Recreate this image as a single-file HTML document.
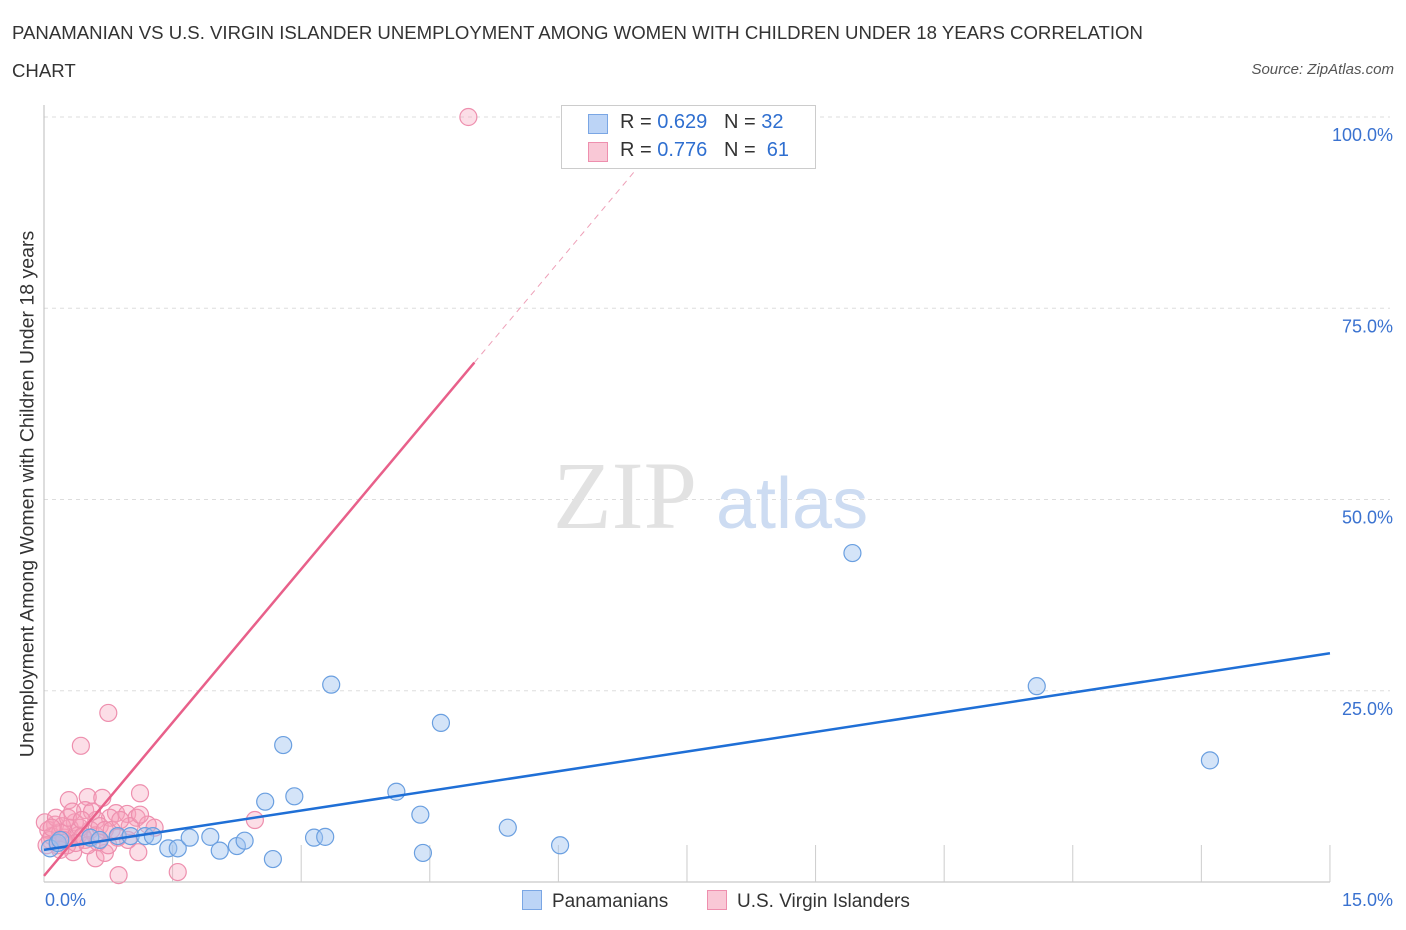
<!DOCTYPE html>
<html><head><meta charset="utf-8"><style>
body{margin:0;background:#fff;font-family:"Liberation Sans",sans-serif}
#wrap{position:relative;width:1406px;height:930px;overflow:hidden}
.t{position:absolute;white-space:nowrap}
</style></head><body>
<div id="wrap">
<div class="t" style="left:12px;top:14px;font-size:18.6px;color:#333;line-height:38px">PANAMANIAN VS U.S. VIRGIN ISLANDER UNEMPLOYMENT AMONG WOMEN WITH CHILDREN UNDER 18 YEARS CORRELATION<br>CHART</div>
<div class="t" style="right:12px;top:61px;font-size:15px;color:#555;font-style:italic">Source: ZipAtlas.com</div>
<svg id="svg" width="1406" height="930" style="position:absolute;left:0;top:0"></svg>
</div>
<script>
const blueX=[0.07,0.16,0.19,0.54,0.65,0.86,1.01,1.18,1.27,1.45,1.56,1.70,1.94,2.05,2.25,2.34,2.58,2.67,2.79,2.92,3.15,3.28,3.35,4.11,4.39,4.42,4.63,5.41,6.02,9.43,11.58,13.60];
const blueY=[4.4,5.1,5.5,5.8,5.5,6.0,6.0,6.0,6.0,4.4,4.4,5.8,5.9,4.1,4.7,5.4,10.5,3.0,17.9,11.2,5.8,5.9,25.8,11.8,8.8,3.8,20.8,7.1,4.8,43.0,25.6,15.9];
const pinkX=[4.95,0.75,0.43,2.46,1.56,0.87,1.12,0.29,0.51,0.68,0.48,0.84,0.97,1.08,1.29,1.00,0.77,0.61,0.36,0.13,0.05,0.07,0.09,0.19,0.24,0.30,0.40,0.48,0.54,0.60,0.65,0.71,0.34,0.60,0.71,0.98,1.10,0.16,0.21,0.27,0.42,0.51,0.01,0.03,0.14,0.28,0.56,0.79,0.89,1.21,1.12,0.37,0.45,0.23,0.63,0.09,0.33,0.19,0.44,0.86,0.75];
const pinkY=[100,22.1,17.8,8.1,1.3,0.9,11.6,10.7,11.1,11.0,9.4,9.0,8.9,8.4,7.1,7.3,8.4,8.1,7.8,7.5,6.8,5.5,6.0,6.5,5.8,7.1,6.1,5.5,6.8,6.1,7.3,6.8,3.9,3.1,3.8,5.5,3.9,4.8,7.3,4.8,7.1,4.8,7.8,4.8,8.4,8.4,9.2,6.8,8.1,7.5,8.8,5.1,6.0,5.5,5.2,7.1,9.2,4.2,8.1,5.8,4.8];
const blueLine=[[0,4.2],[15,29.9]];
const pinkLine=[[0,0.8],[5.02,67.9]];
const pinkDash=[[5.02,67.9],[7.42,100]];
const yTicks=[25,50,75,100];
const yTickLabels=["25.0%","50.0%","75.0%","100.0%"];
const xTicks=[0,1.5,3,4.5,6,7.5,9,10.5,12,13.5,15];
const X=v=>44+v*85.73, Y=v=>882-v*7.65;
const svg=document.getElementById('svg');
const NS='http://www.w3.org/2000/svg';
function mk(tag,attrs,parent){const e=document.createElementNS(NS,tag);for(const k in attrs)e.setAttribute(k,attrs[k]);(parent||svg).appendChild(e);return e;}
yTicks.forEach((t,i)=>{
 const g=mk('line',{x1:44,x2:1390,y1:Y(t),y2:Y(t),stroke:'#ddd','stroke-dasharray':'4,4'});
 
 
 const l=mk('text',{x:1393,y:Y(t)+24,'text-anchor':'end','font-size':18,fill:'#3a72d0','font-family':'Liberation Sans'});
 l.textContent=yTickLabels[i];
 
 
});
const w1=mk('text',{x:553,y:528,'font-size':96,fill:'#e2e2e2','font-family':'Liberation Serif'});w1.textContent='ZIP';


const w2=mk('text',{x:716,y:528,'font-size':72,fill:'#cddcf2','font-family':'Liberation Sans'});w2.textContent='atlas';


mk('line',{x1:44,x2:44,y1:105,y2:882,stroke:'#bbb'});
mk('line',{x1:44,x2:1330,y1:882,y2:882,stroke:'#bbb'});
xTicks.forEach(t=>{const e=mk('line',{x1:X(t),x2:X(t),y1:845,y2:882,stroke:'#ccc'});
 
 });
pinkX.forEach((v,i)=>{const c=mk('circle',{cx:X(v),cy:Y(pinkY[i]),r:8.5,fill:'rgba(245,160,185,0.35)',stroke:'#ee8fae','stroke-width':1.2});
 
 });
blueX.forEach((v,i)=>{const c=mk('circle',{cx:X(v),cy:Y(blueY[i]),r:8.5,fill:'rgba(160,196,240,0.45)',stroke:'#6a9fe0','stroke-width':1.2});
 
 });
const bl=mk('line',{x1:X(blueLine[0][0]),y1:Y(blueLine[0][1]),x2:X(blueLine[1][0]),y2:Y(blueLine[1][1]),stroke:'#1f6fd6','stroke-width':2.5});


const pl=mk('line',{x1:X(pinkLine[0][0]),y1:Y(pinkLine[0][1]),x2:X(pinkLine[1][0]),y2:Y(pinkLine[1][1]),stroke:'#e8608a','stroke-width':2.5});


const pd=mk('line',{x1:X(pinkDash[0][0]),y1:Y(pinkDash[0][1]),x2:X(pinkDash[1][0]),y2:Y(pinkDash[1][1]),stroke:'#eea0b8','stroke-width':1,'stroke-dasharray':'6,5'});


</script>
<div class="t" style="left:561px;top:105px;width:253px;height:62px;border:1px solid #ccc;background:#fff;font-size:20px;color:#333">
 <div style="position:absolute;left:26px;top:8px;width:18px;height:18px;background:#bcd4f6;border:1px solid #7aa6e4"></div>
 <div style="position:absolute;left:58px;top:5px">R = <span style="color:#2f6fd0">0.629</span>&nbsp;&nbsp;&nbsp;N = <span style="color:#2f6fd0">32</span></div>
 <div style="position:absolute;left:26px;top:36px;width:18px;height:18px;background:#f9c8d6;border:1px solid #ee8fae"></div>
 <div style="position:absolute;left:58px;top:33px">R = <span style="color:#2f6fd0">0.776</span>&nbsp;&nbsp;&nbsp;N = <span style="color:#2f6fd0">&nbsp;61</span></div>
</div>
<div class="t" style="left:45px;top:890px;font-size:18px;color:#3a72d0">0.0%</div>
<div class="t" style="right:13px;top:890px;font-size:18px;color:#3a72d0">15.0%</div>
<div class="t" style="left:522px;top:890px;font-size:19px;color:#333"><span style="display:inline-block;width:18px;height:18px;background:#bcd4f6;border:1px solid #7aa6e4;vertical-align:-3px;margin-right:10px"></span>Panamanians</div>
<div class="t" style="left:707px;top:890px;font-size:19px;color:#333"><span style="display:inline-block;width:18px;height:18px;background:#f9c8d6;border:1px solid #ee8fae;vertical-align:-3px;margin-right:10px"></span>U.S. Virgin Islanders</div>
<div class="t" style="left:28px;top:494px;font-size:19.5px;color:#333;transform:translate(-50%,-50%) rotate(-90deg)">Unemployment Among Women with Children Under 18 years</div>
</body></html>
